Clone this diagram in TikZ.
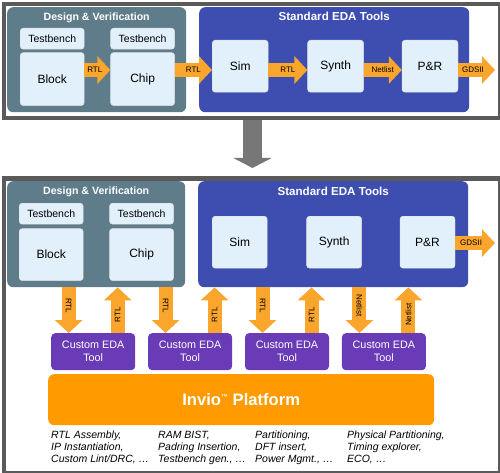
\documentclass[tikz,border=0pt]{standalone}
\usepackage{fontspec}
\setmainfont{Liberation Sans}
\usepackage{xcolor}
\usepackage{tikz}
\usetikzlibrary{arrows.meta,positioning,backgrounds}

\definecolor{dvgray}{HTML}{5E7C89}
\definecolor{edablue}{HTML}{3D4EB0}
\definecolor{boxfill}{HTML}{E1F0FA}
\definecolor{flowor}{HTML}{FAA52C}
\definecolor{inviool}{HTML}{FF9A00}
\definecolor{custpurple}{HTML}{6A3BB6}
\definecolor{framegray}{HTML}{5A5A5A}
\definecolor{downgray}{HTML}{777777}

\tikzset{
  frame/.style={rectangle, draw=framegray, line width=4pt, anchor=north west, inner sep=0pt},
  panel/.style={rectangle, rounded corners=6pt, anchor=north west, inner sep=0pt},
  ptitle/.style={text=white, inner sep=0pt, font=\bfseries\fontsize{10.6}{12}\selectfont},
  tbox/.style={rectangle, rounded corners=3pt, fill=boxfill, draw=black!12, inner sep=0pt, font=\fontsize{10.5}{12}\selectfont},
  unit/.style={tbox, font=\fontsize{12}{14}\selectfont},
  flow/.style={draw=flowor, line width=14pt, -{Triangle[length=13pt, width=27pt]}},
  flowlbl/.style={inner sep=0pt, font=\fontsize{8}{9}\selectfont},
  custbox/.style={rectangle, rounded corners=4pt, fill=custpurple, text=white, minimum width=84pt, minimum height=37pt, align=center, inner sep=0pt, font=\fontsize{10.8}{13}\selectfont},
  notes/.style={anchor=north west, align=left, inner sep=0pt, font=\itshape\fontsize{10.5}{11.9}\selectfont},
}

\begin{document}
\begin{tikzpicture}[x=1pt, y=-1pt]
    \useasboundingbox (0,0) rectangle (500,473);

    % Frames
    \node[frame, minimum width=495.5pt, minimum height=114.5pt] (topframe) at (2,2) {};
    \node[frame, minimum width=495.5pt, minimum height=294pt] (botframe) at (2,176.5) {};

    % Down arrow between the two frames
    \coordinate (downtip) at (252.5,168);
    \draw[downgray, line width=19pt, -{Triangle[length=10pt, width=38pt]}] (downtip |- topframe.south) -- (downtip);

    % Top: panels
    \node[panel, fill=dvgray, minimum width=179pt, minimum height=105pt] (dv1) at (7,7) {};
    \node[panel, fill=edablue, minimum width=270pt, minimum height=105pt] (eda1) at (199,7) {};
    \node[ptitle, below=5.5pt of dv1.north] (dv1t) {Design \& Verification};
    \node[ptitle, font=\bfseries\fontsize{11.6}{13}\selectfont, below=5pt of eda1.north] (eda1t) {Standard EDA Tools};

    % Top: nodes
    \node[tbox, anchor=north west, minimum width=64pt, minimum height=21pt] (tb1a) at (20,28) {Testbench};
    \node[unit, below=3pt of tb1a, minimum width=64pt, minimum height=53pt] (block1) {Block};
    \node[tbox, right=26pt of tb1a, minimum width=64pt, minimum height=21pt] (tb1b) {Testbench};
    \node[unit, below=3pt of tb1b, minimum width=64pt, minimum height=53pt] (chip1) {Chip};
    \node[unit, anchor=north west, minimum width=56pt, minimum height=52pt] (sim1) at (212,40) {Sim};
    \node[unit, right=39pt of sim1, minimum width=56pt, minimum height=52pt] (synth1) {Synth};
    \node[unit, right=38pt of synth1, minimum width=56pt, minimum height=52pt] (pr1) {P\&R};

    % Top: flow
    \coordinate (row1) at (0,70);
    \coordinate (gds1) at (495,70);
    \draw[flow] (block1.east |- row1) -- node[flowlbl, pos=0.4] {RTL} (chip1.west |- row1);
    \draw[flow] (chip1.east |- row1) -- node[flowlbl] {RTL} (sim1.west |- row1);
    \draw[flow] (sim1.east |- row1) -- node[flowlbl] {RTL} (synth1.west |- row1);
    \draw[flow] (synth1.east |- row1) -- node[flowlbl] {Netlist} (pr1.west |- row1);
    \draw[flow] (pr1.east |- gds1) -- node[flowlbl, pos=0.4] {GDSII} (gds1);

    % Bottom: panels
    \node[panel, fill=dvgray, minimum width=178pt, minimum height=106pt] (dv2) at (7,181) {};
    \node[panel, fill=edablue, minimum width=270pt, minimum height=106pt] (eda2) at (198,181) {};
    \node[ptitle, below=6pt of dv2.north] (dv2t) {Design \& Verification};
    \node[ptitle, font=\bfseries\fontsize{11.6}{13}\selectfont, below=6pt of eda2.north] (eda2t) {Standard EDA Tools};

    % Bottom: nodes
    \node[tbox, anchor=north west, minimum width=64pt, minimum height=21pt] (tb2a) at (19,203) {Testbench};
    \node[unit, below=4pt of tb2a, minimum width=64pt, minimum height=52pt] (block2) {Block};
    \node[tbox, right=26pt of tb2a, minimum width=64pt, minimum height=21pt] (tb2b) {Testbench};
    \node[unit, below=4pt of tb2b, minimum width=64pt, minimum height=52pt] (chip2) {Chip};
    \node[unit, anchor=north west, minimum width=55pt, minimum height=52pt] (sim2) at (212,216) {Sim};
    \node[unit, right=39pt of sim2, minimum width=55pt, minimum height=52pt] (synth2) {Synth};
    \node[unit, right=38pt of synth2, minimum width=55pt, minimum height=52pt] (pr2) {P\&R};

    \coordinate (gds2) at (495,243);
    \draw[flow] (pr2.east |- gds2) -- node[flowlbl, pos=0.4] {GDSII} (gds2);

    % Custom tools and platform
    \node[custbox, anchor=north west] (cust1) at (51,333) {Custom EDA\\Tool};
    \node[custbox, right=12.5pt of cust1] (cust2) {Custom EDA\\Tool};
    \node[custbox, right=12.5pt of cust2] (cust3) {Custom EDA\\Tool};
    \node[custbox, right=12.5pt of cust3] (cust4) {Custom EDA\\Tool};
    \node[panel, fill=inviool, minimum width=386pt, minimum height=51pt] (invio) at (48,374) {};
    \node[text=white, font=\bfseries\fontsize{16.6}{18}\selectfont] (inviot) at (invio.center)
      {Invio{\fontsize{7}{7}\selectfont\raisebox{6pt}{™}} Platform};

    % Up and down links
    \coordinate (c1a) at ([xshift=-24.5pt]cust1.north);
    \coordinate (c1b) at ([xshift=24.5pt]cust1.north);
    \coordinate (c2a) at ([xshift=-24.5pt]cust2.north);
    \coordinate (c2b) at ([xshift=24.5pt]cust2.north);
    \coordinate (c3a) at ([xshift=-24.5pt]cust3.north);
    \coordinate (c3b) at ([xshift=24.5pt]cust3.north);
    \coordinate (c4a) at ([xshift=-24.5pt]cust4.north);
    \coordinate (c4b) at ([xshift=24.5pt]cust4.north);
    \draw[flow] (c1a |- dv2.south) -- node[flowlbl, rotate=-90, pos=0.4] {RTL} (c1a);
    \draw[flow] (c1b) -- node[flowlbl, rotate=90, pos=0.4] {RTL} (c1b |- dv2.south);
    \draw[flow] (c2a |- dv2.south) -- node[flowlbl, rotate=-90, pos=0.4] {RTL} (c2a);
    \draw[flow] (c2b) -- node[flowlbl, rotate=90, pos=0.4] {RTL} (c2b |- eda2.south);
    \draw[flow] (c3a |- eda2.south) -- node[flowlbl, rotate=-90, pos=0.4] {RTL} (c3a);
    \draw[flow] (c3b) -- node[flowlbl, rotate=90, pos=0.4] {RTL} (c3b |- eda2.south);
    \draw[flow] (c4a |- eda2.south) -- node[flowlbl, rotate=-90, pos=0.4] {Netlist} (c4a);
    \draw[flow] (c4b) -- node[flowlbl, rotate=90, pos=0.4] {Netlist} (c4b |- eda2.south);

    % Notes
    \node[notes] (note1) at (51,431) {RTL Assembly,\\IP Instantiation,\\Custom Lint/DRC, \dots};
    \node[notes] (note2) at (158,431) {RAM BIST,\\Padring Insertion,\\Testbench gen., \dots};
    \node[notes] (note3) at (255,431) {Partitioning,\\DFT insert,\\Power Mgmt., \dots};
    \node[notes] (note4) at (347,431) {Physical Partitioning,\\Timing explorer,\\ECO, \dots};

\end{tikzpicture}
\end{document}
